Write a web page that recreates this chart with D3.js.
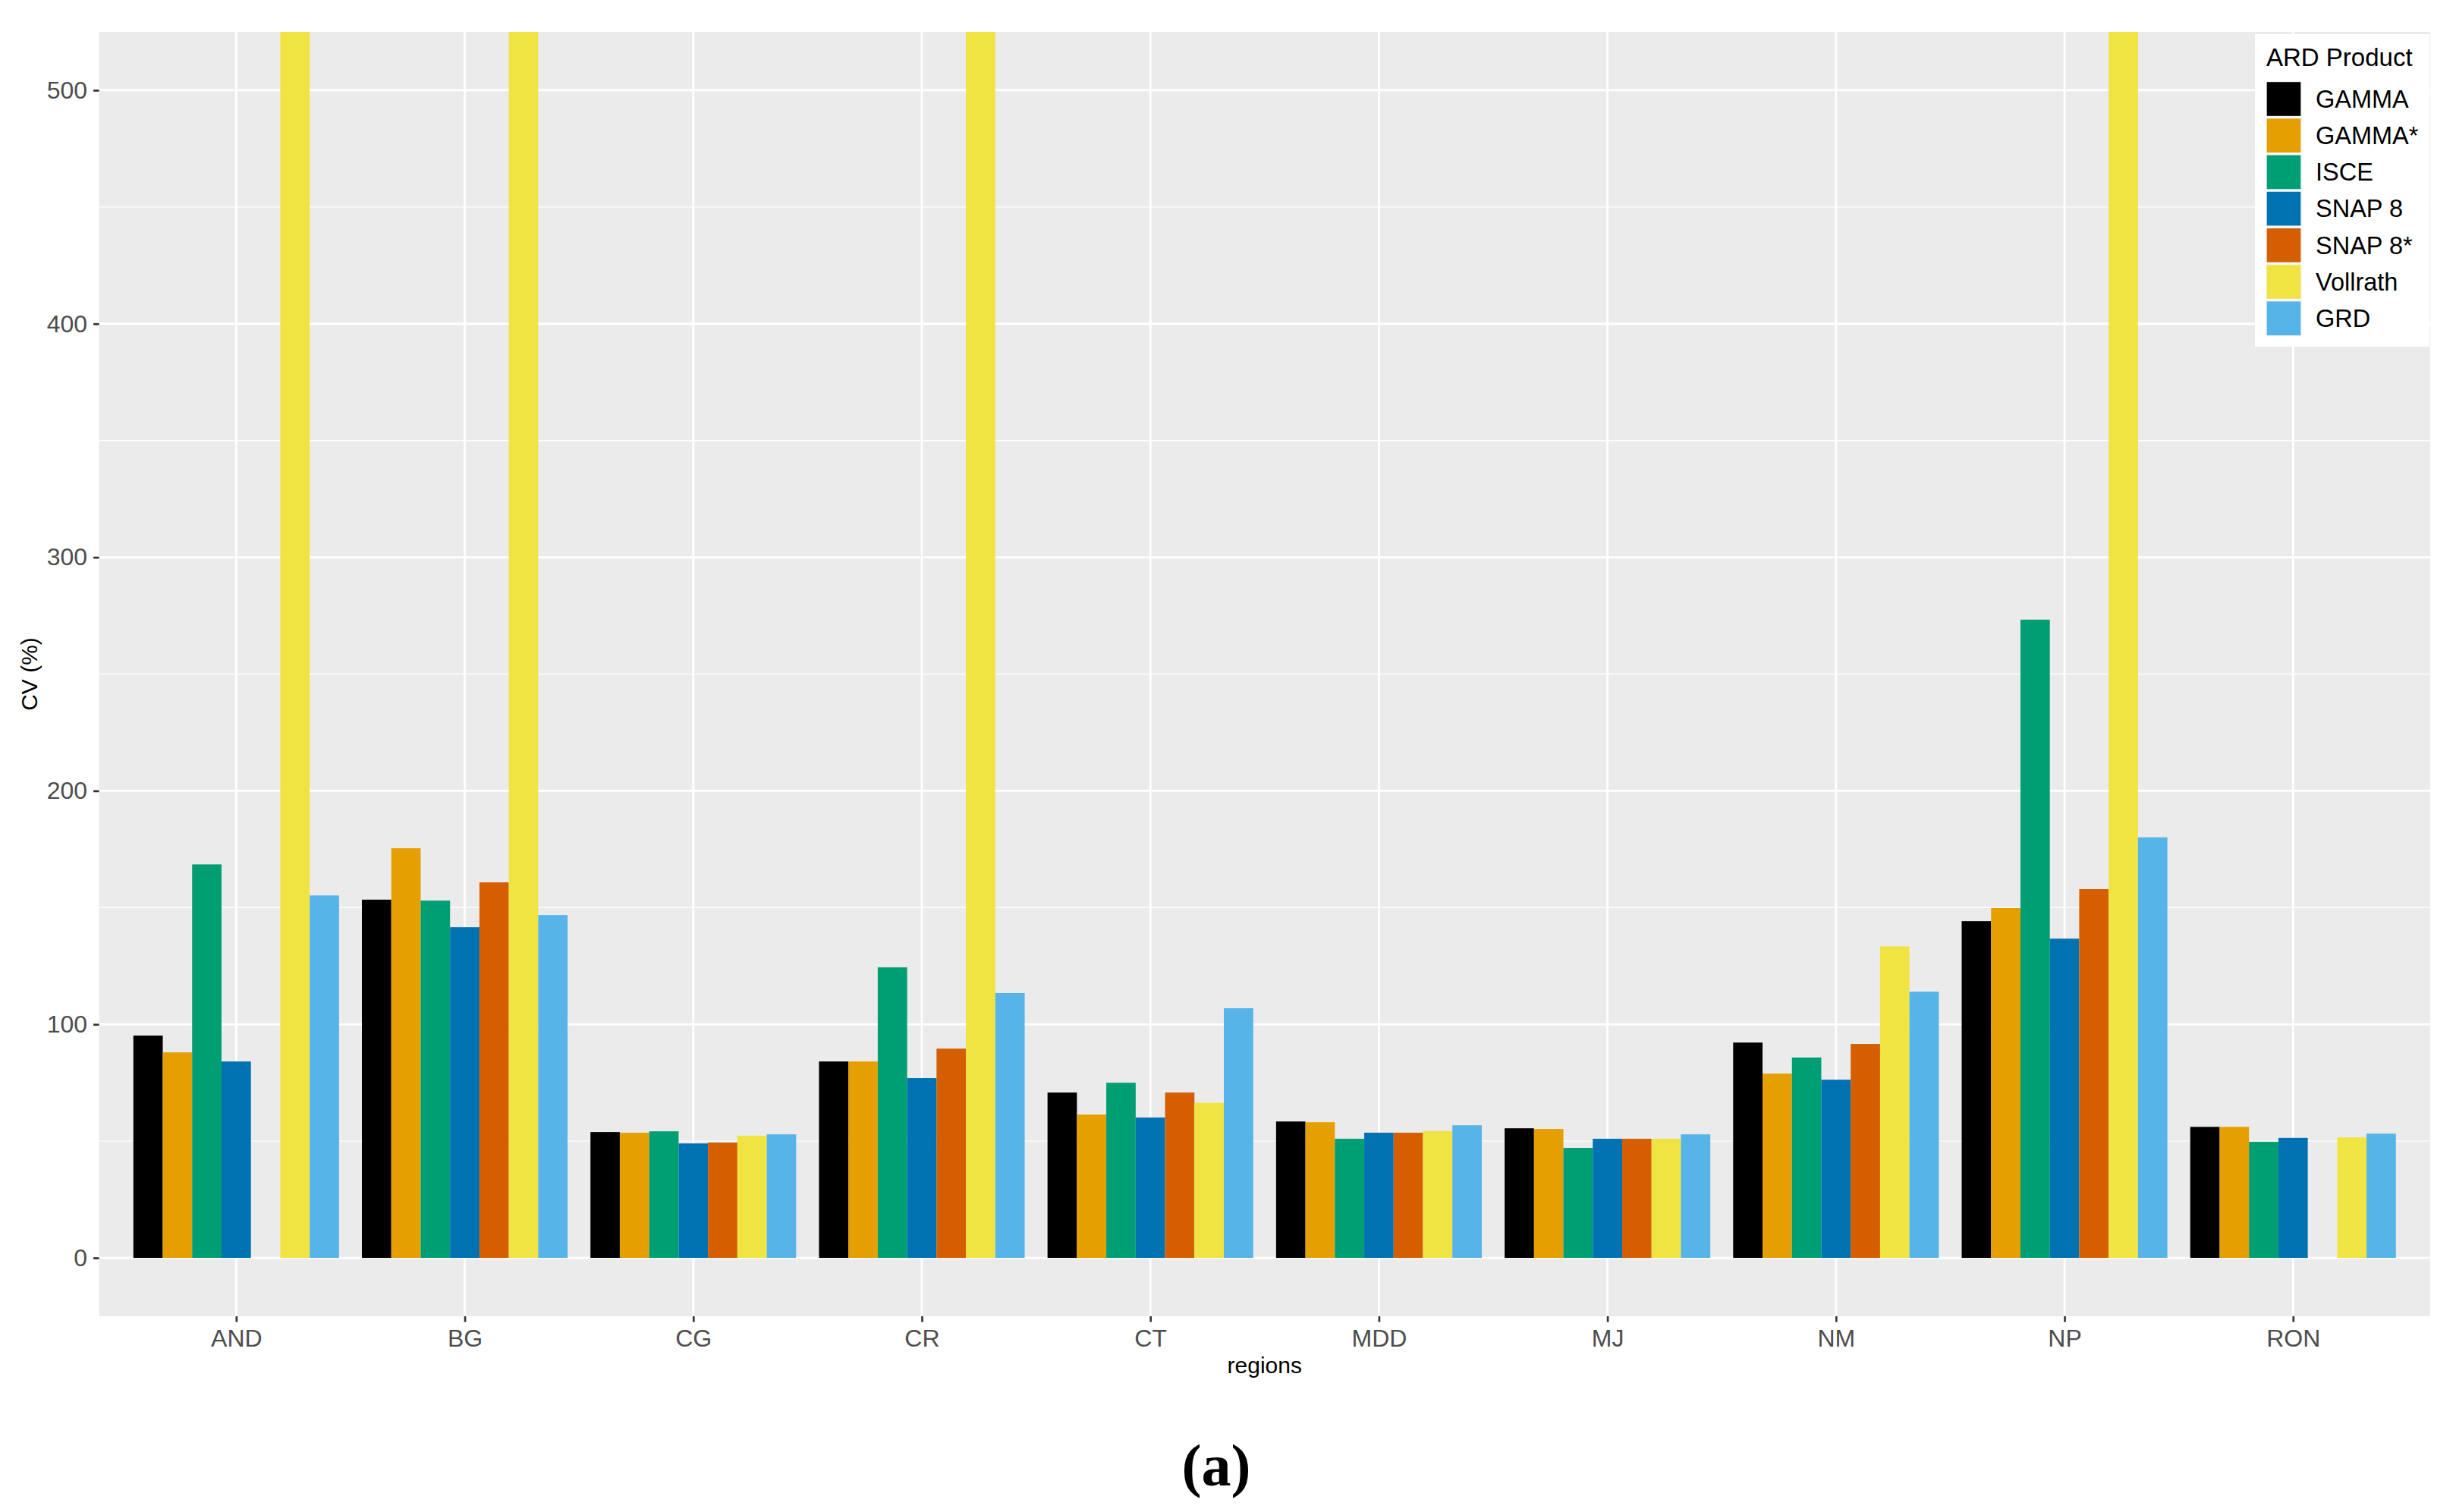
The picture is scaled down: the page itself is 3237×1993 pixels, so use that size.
<!DOCTYPE html>
<html>
<head>
<meta charset="utf-8">
<script src="https://cdn.jsdelivr.net/npm/d3@7"></script>
<style>
  html, body { margin: 0; padding: 0; background: #ffffff; }
  svg { display: block; }
</style>
</head>
<body>
<svg id="chart" width="3237" height="1993"></svg>
<script>
// ---- data ----
const regions = ["AND", "BG", "CG", "CR", "CT", "MDD", "MJ", "NM", "NP", "RON"];
const products = ["GAMMA", "GAMMA*", "ISCE", "SNAP 8", "SNAP 8*", "Vollrath", "GRD"];
const productColors = ["#000000", "#E69F00", "#009E73", "#0072B2", "#D55E00", "#F0E442", "#56B4E9"];

// CV (%) per product, one value per region (null = no bar)
const gamma      = [95.2, 153.4, 53.9, 84.1, 70.8, 58.4, 55.5, 92.2, 144.2, 56.1];
const gammaStar  = [88.0, 175.4, 53.6, 84.1, 61.4, 58.1, 55.2, 78.9, 149.8, 56.1];
const isce       = [168.5, 153.0, 54.2, 124.4, 75.0, 51.0, 47.1, 85.8, 273.3, 49.7];
const snap8      = [84.1, 141.6, 49.0, 77.0, 60.1, 53.6, 51.0, 76.3, 136.7, 51.4];
const snap8Star  = [null, 160.8, 49.4, 89.6, 70.8, 53.6, 51.0, 91.6, 157.9, null];
const vollrath   = [600, 600, 52.3, 600, 66.4, 54.3, 51.0, 133.4, 600, 51.6]; // 600: beyond visible range (clipped)
const grd        = [155.2, 146.8, 52.9, 113.4, 106.9, 56.8, 52.9, 114.0, 180.1, 53.2];
const seriesValues = [gamma, gammaStar, isce, snap8, snap8Star, vollrath, grd];

const yTicks = [0, 100, 200, 300, 400, 500];
const yMinorTicks = [50, 150, 250, 350, 450];
const xTitle = "regions";
const yTitle = "CV (%)";
const legendTitle = "ARD Product";
const caption = "(a)";

// ---- layout ----
const panel = { left: 130.6, right: 3203, top: 42, bottom: 1735 };
const FONT = "'Liberation Sans', Arial, sans-serif";

const svg = d3.select("#chart");
svg.append("rect").attr("width", 3237).attr("height", 1993).attr("fill", "#ffffff");

const x = d3.scalePoint().domain(regions).range([panel.left, panel.right]).padding(0.6);
const step = x.step();
const xInner = d3.scaleBand().domain(products).range([-0.45 * step, 0.45 * step]).padding(0);
const y = d3.scaleLinear().domain([-25, 525]).range([panel.bottom, panel.top]);
const color = d3.scaleOrdinal().domain(products).range(productColors);

// panel background
svg.append("rect")
  .attr("x", panel.left).attr("y", panel.top)
  .attr("width", panel.right - panel.left).attr("height", panel.bottom - panel.top)
  .attr("fill", "#EBEBEB");

svg.append("defs").append("clipPath").attr("id", "panelClip")
  .append("rect")
  .attr("x", panel.left).attr("y", panel.top)
  .attr("width", panel.right - panel.left).attr("height", panel.bottom - panel.top);

const grid = svg.append("g");
grid.selectAll("line.minor").data(yMinorTicks).enter().append("line")
  .attr("x1", panel.left).attr("x2", panel.right)
  .attr("y1", d => y(d)).attr("y2", d => y(d))
  .attr("stroke", "#ffffff").attr("stroke-width", 1.4);
grid.selectAll("line.majorY").data(yTicks).enter().append("line")
  .attr("x1", panel.left).attr("x2", panel.right)
  .attr("y1", d => y(d)).attr("y2", d => y(d))
  .attr("stroke", "#ffffff").attr("stroke-width", 2.8);
grid.selectAll("line.majorX").data(regions).enter().append("line")
  .attr("x1", d => x(d)).attr("x2", d => x(d))
  .attr("y1", panel.top).attr("y2", panel.bottom)
  .attr("stroke", "#ffffff").attr("stroke-width", 2.8);

// bars
const barData = [];
products.forEach((p, pi) => {
  regions.forEach((r, ri) => {
    const v = seriesValues[pi][ri];
    if (v !== null && v !== undefined) barData.push({ region: r, product: p, value: v });
  });
});
svg.append("g").attr("clip-path", "url(#panelClip)")
  .selectAll("rect").data(barData).enter().append("rect")
  .attr("x", d => x(d.region) + xInner(d.product))
  .attr("width", xInner.bandwidth())
  .attr("y", d => y(d.value))
  .attr("height", d => y(0) - y(d.value))
  .attr("fill", d => color(d.product));

// axes
const yAxis = svg.append("g").attr("transform", `translate(${panel.left},0)`)
  .call(d3.axisLeft(y).tickValues(yTicks).tickSize(7.5).tickPadding(8));
const xAxis = svg.append("g").attr("transform", `translate(0,${panel.bottom})`)
  .call(d3.axisBottom(x).tickSize(7.5).tickPadding(9.8));
[yAxis, xAxis].forEach(a => {
  a.select(".domain").remove();
  a.selectAll(".tick line").attr("stroke", "#333333").attr("stroke-width", 2.7);
  a.selectAll(".tick text").attr("fill", "#4D4D4D").style("font-family", FONT).style("font-size", "32px");
});

// axis titles
svg.append("text")
  .attr("x", (panel.left + panel.right) / 2).attr("y", 1810)
  .attr("text-anchor", "middle")
  .style("font-family", FONT).style("font-size", "30px").attr("fill", "#000000")
  .text(xTitle);
svg.append("text")
  .attr("transform", `translate(49,${(panel.top + panel.bottom) / 2}) rotate(-90)`)
  .attr("text-anchor", "middle")
  .style("font-family", FONT).style("font-size", "30px").attr("fill", "#000000")
  .text(yTitle);

// legend
const lg = svg.append("g");
lg.append("rect").attr("x", 2972).attr("y", 45).attr("width", 230).attr("height", 412).attr("fill", "#ffffff");
lg.append("text").attr("x", 2987).attr("y", 87)
  .style("font-family", FONT).style("font-size", "33px").attr("fill", "#000000")
  .text(legendTitle);
const keyH = 48.2;
const items = lg.selectAll("g.item").data(products).enter().append("g")
  .attr("transform", (d, i) => `translate(2986.5,${107 + i * keyH})`);
items.append("rect").attr("width", 47).attr("height", 47).attr("fill", "#F2F2F2");
items.append("rect").attr("x", 1.2).attr("y", 1.2).attr("width", 44.6).attr("height", 44.6)
  .attr("fill", d => color(d));
items.append("text").attr("x", 65.5).attr("y", 23.5).attr("dy", "0.35em")
  .style("font-family", FONT).style("font-size", "32.5px").attr("fill", "#000000")
  .text(d => d);

// caption
svg.append("text")
  .attr("x", 1603).attr("y", 1958)
  .attr("text-anchor", "middle")
  .style("font-family", "'Liberation Serif', 'DejaVu Serif', serif")
  .style("font-size", "78px").style("font-weight", "bold").attr("fill", "#000000")
  .text(caption);
</script>
</body>
</html>
